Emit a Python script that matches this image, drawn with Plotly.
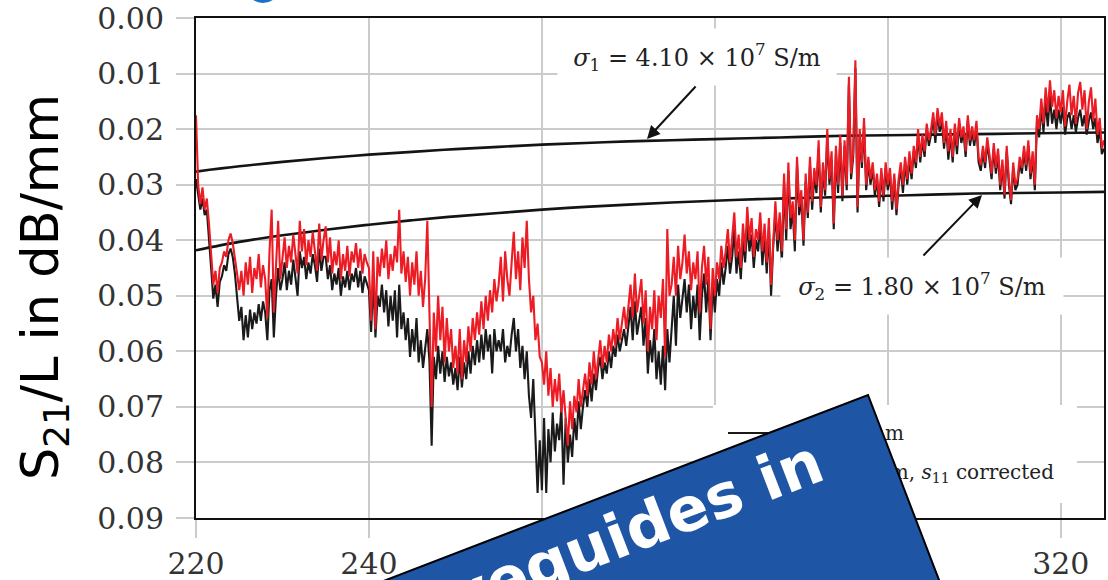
import numpy as np
import plotly.graph_objects as go

# ---------------------------------------------------------------------------
# Measured S21/L of the waveguide section, 220 ... 325 GHz in 0.25 GHz steps
# ---------------------------------------------------------------------------
F_START = 220.0
F_STEP = 0.25

# raw measurement (black)
s21_raw = [
    # 220.00 - 224.75
    0.0290, 0.0320, 0.0345, 0.0325, 0.0355, 0.0345, 0.0390, 0.0450, 0.0505, 0.0480,
    0.0520, 0.0475, 0.0465, 0.0445, 0.0455, 0.0425, 0.0415, 0.0430, 0.0460, 0.0500,
    # 225.00 - 229.75
    0.0545, 0.0520, 0.0580, 0.0535, 0.0575, 0.0525, 0.0560, 0.0530, 0.0550, 0.0515,
    0.0545, 0.0510, 0.0530, 0.0580, 0.0490, 0.0470, 0.0575, 0.0500, 0.0450, 0.0490,
    # 230.00 - 234.75
    0.0470, 0.0440, 0.0490, 0.0455, 0.0480, 0.0435, 0.0465, 0.0500, 0.0420, 0.0450,
    0.0430, 0.0470, 0.0440, 0.0460, 0.0425, 0.0445, 0.0475, 0.0415, 0.0455, 0.0430,
    # 235.00 - 239.75
    0.0430, 0.0470, 0.0445, 0.0490, 0.0460, 0.0480, 0.0450, 0.0500, 0.0465, 0.0485,
    0.0455, 0.0490, 0.0460, 0.0475, 0.0450, 0.0485, 0.0455, 0.0495, 0.0465, 0.0480,
    # 240.00 - 244.75
    0.0490, 0.0565, 0.0470, 0.0575, 0.0500, 0.0520, 0.0480, 0.0530, 0.0490, 0.0555,
    0.0500, 0.0545, 0.0490, 0.0575, 0.0480, 0.0560, 0.0530, 0.0580, 0.0540, 0.0610,
    # 245.00 - 249.75
    0.0560, 0.0600, 0.0540, 0.0620, 0.0580, 0.0630, 0.0590, 0.0560, 0.0620, 0.0770,
    0.0610, 0.0650, 0.0590, 0.0640, 0.0600, 0.0655, 0.0610, 0.0645, 0.0620, 0.0660,
    # 250.00 - 254.75
    0.0630, 0.0670, 0.0610, 0.0665, 0.0620, 0.0650, 0.0600, 0.0640, 0.0590, 0.0625,
    0.0580, 0.0620, 0.0570, 0.0615, 0.0560, 0.0600, 0.0570, 0.0640, 0.0560, 0.0600,
    # 255.00 - 259.75
    0.0580, 0.0600, 0.0560, 0.0620, 0.0590, 0.0610, 0.0570, 0.0540, 0.0600, 0.0560,
    0.0630, 0.0590, 0.0650, 0.0600, 0.0680, 0.0720, 0.0650, 0.0740, 0.0855, 0.0760,
    # 260.00 - 264.75
    0.0850, 0.0720, 0.0855, 0.0740, 0.0800, 0.0710, 0.0780, 0.0730, 0.0760, 0.0700,
    0.0840, 0.0720, 0.0800, 0.0750, 0.0790, 0.0720, 0.0760, 0.0690, 0.0740, 0.0700,
    # 265.00 - 269.75
    0.0670, 0.0700, 0.0650, 0.0690, 0.0640, 0.0670, 0.0630, 0.0610, 0.0650, 0.0620,
    0.0640, 0.0600, 0.0630, 0.0590, 0.0610, 0.0570, 0.0600, 0.0580, 0.0560, 0.0590,
    # 270.00 - 274.75
    0.0560, 0.0520, 0.0580, 0.0510, 0.0570, 0.0540, 0.0520, 0.0590, 0.0540, 0.0640,
    0.0580, 0.0620, 0.0560, 0.0650, 0.0600, 0.0660, 0.0590, 0.0670, 0.0560, 0.0620,
    # 275.00 - 279.75
    0.0560, 0.0500, 0.0590, 0.0480, 0.0540, 0.0500, 0.0470, 0.0530, 0.0480, 0.0560,
    0.0500, 0.0540, 0.0480, 0.0580, 0.0500, 0.0460, 0.0530, 0.0470, 0.0580, 0.0480,
    # 280.00 - 284.75
    0.0530, 0.0470, 0.0500, 0.0440, 0.0480, 0.0450, 0.0410, 0.0460, 0.0430, 0.0380,
    0.0460, 0.0420, 0.0470, 0.0400, 0.0440, 0.0370, 0.0420, 0.0390, 0.0450, 0.0400,
    # 285.00 - 289.75
    0.0420, 0.0370, 0.0445, 0.0390, 0.0460, 0.0380, 0.0500, 0.0410, 0.0350, 0.0420,
    0.0370, 0.0440, 0.0295, 0.0400, 0.0275, 0.0380, 0.0345, 0.0420, 0.0265, 0.0355,
    # 290.00 - 294.75
    0.0325, 0.0410, 0.0295, 0.0360, 0.0265, 0.0345, 0.0285, 0.0315, 0.0235, 0.0350,
    0.0275, 0.0320, 0.0215, 0.0300, 0.0255, 0.0380, 0.0245, 0.0315, 0.0225, 0.0330,
    # 295.00 - 299.75
    0.0230, 0.0310, 0.0120, 0.0290, 0.0250, 0.0090, 0.0350, 0.0210, 0.0270, 0.0195,
    0.0310, 0.0260, 0.0300, 0.0270, 0.0320, 0.0290, 0.0340, 0.0280, 0.0330, 0.0270,
    # 300.00 - 304.75
    0.0310, 0.0280, 0.0345, 0.0290, 0.0355, 0.0300, 0.0270, 0.0315, 0.0260, 0.0300,
    0.0255, 0.0290, 0.0240, 0.0270, 0.0210, 0.0260, 0.0220, 0.0250, 0.0200, 0.0230,
    # 305.00 - 309.75
    0.0210, 0.0180, 0.0225, 0.0172, 0.0205, 0.0185, 0.0235, 0.0195, 0.0255, 0.0210,
    0.0260, 0.0200, 0.0245, 0.0190, 0.0225, 0.0205, 0.0250, 0.0185, 0.0230, 0.0205,
    # 310.00 - 314.75
    0.0230, 0.0195, 0.0260, 0.0275, 0.0240, 0.0270, 0.0225, 0.0255, 0.0290, 0.0235,
    0.0280, 0.0245, 0.0310, 0.0265, 0.0325, 0.0240, 0.0300, 0.0335, 0.0270, 0.0310,
    # 315.00 - 319.75
    0.0300, 0.0260, 0.0280, 0.0240, 0.0275, 0.0230, 0.0290, 0.0250, 0.0310, 0.0185,
    0.0215, 0.0160, 0.0205, 0.0150, 0.0195, 0.0140, 0.0190, 0.0165, 0.0200, 0.0165,
    # 320.00 - 325.00
    0.0190, 0.0160, 0.0210, 0.0180, 0.0170, 0.0200, 0.0175, 0.0205, 0.0180, 0.0165,
    0.0195, 0.0175, 0.0210, 0.0185, 0.0170, 0.0200, 0.0180, 0.0225, 0.0200, 0.0245,
    0.0235,
]

# measurement with s11 correction (red)
s21_corrected = [
    # 220.00 - 224.75
    0.0175, 0.0300, 0.0335, 0.0305, 0.0345, 0.0325, 0.0370, 0.0425, 0.0480, 0.0455,
    0.0495, 0.0450, 0.0440, 0.0420, 0.0430, 0.0400, 0.0388, 0.0405, 0.0430, 0.0460,
    # 225.00 - 229.75
    0.0490, 0.0455, 0.0500, 0.0440, 0.0480, 0.0430, 0.0495, 0.0450, 0.0470, 0.0425,
    0.0485, 0.0445, 0.0470, 0.0540, 0.0420, 0.0345, 0.0530, 0.0440, 0.0365, 0.0470,
    # 230.00 - 234.75
    0.0430, 0.0395, 0.0450, 0.0410, 0.0440, 0.0390, 0.0425, 0.0460, 0.0365, 0.0420,
    0.0380, 0.0445, 0.0400, 0.0430, 0.0385, 0.0415, 0.0455, 0.0370, 0.0435, 0.0400,
    # 235.00 - 239.75
    0.0375, 0.0440, 0.0395, 0.0460, 0.0420, 0.0445, 0.0400, 0.0470, 0.0425, 0.0455,
    0.0410, 0.0465, 0.0420, 0.0440, 0.0405, 0.0450, 0.0415, 0.0460, 0.0425, 0.0440,
    # 240.00 - 244.75
    0.0450, 0.0545, 0.0420, 0.0560, 0.0430, 0.0465, 0.0415, 0.0450, 0.0400, 0.0470,
    0.0425, 0.0455, 0.0410, 0.0440, 0.0345, 0.0460, 0.0420, 0.0475, 0.0430, 0.0500,
    # 245.00 - 249.75
    0.0440, 0.0480, 0.0420, 0.0500, 0.0455, 0.0520, 0.0470, 0.0365, 0.0560, 0.0700,
    0.0530, 0.0600, 0.0500, 0.0580, 0.0520, 0.0620, 0.0540, 0.0600, 0.0560, 0.0630,
    # 250.00 - 254.75
    0.0590, 0.0640, 0.0560, 0.0650, 0.0580, 0.0620, 0.0555, 0.0600, 0.0540, 0.0580,
    0.0530, 0.0570, 0.0510, 0.0560, 0.0500, 0.0545, 0.0490, 0.0530, 0.0470, 0.0510,
    # 255.00 - 259.75
    0.0480, 0.0430, 0.0510, 0.0420, 0.0470, 0.0500, 0.0440, 0.0385, 0.0470, 0.0420,
    0.0490, 0.0395, 0.0450, 0.0365, 0.0470, 0.0530, 0.0500, 0.0580, 0.0550, 0.0610,
    # 260.00 - 264.75
    0.0620, 0.0660, 0.0600, 0.0680, 0.0630, 0.0700, 0.0650, 0.0690, 0.0640, 0.0710,
    0.0670, 0.0720, 0.0770, 0.0690, 0.0740, 0.0680, 0.0710, 0.0650, 0.0700, 0.0670,
    # 265.00 - 269.75
    0.0640, 0.0680, 0.0620, 0.0660, 0.0600, 0.0650, 0.0610, 0.0580, 0.0630, 0.0590,
    0.0620, 0.0570, 0.0600, 0.0560, 0.0590, 0.0540, 0.0580, 0.0550, 0.0520, 0.0560,
    # 270.00 - 274.75
    0.0520, 0.0480, 0.0540, 0.0460, 0.0530, 0.0500, 0.0470, 0.0550, 0.0490, 0.0600,
    0.0520, 0.0560, 0.0490, 0.0580, 0.0500, 0.0540, 0.0470, 0.0610, 0.0380, 0.0500,
    # 275.00 - 279.75
    0.0480, 0.0430, 0.0500, 0.0410, 0.0470, 0.0440, 0.0390, 0.0460, 0.0420, 0.0490,
    0.0440, 0.0470, 0.0420, 0.0530, 0.0450, 0.0410, 0.0480, 0.0430, 0.0560, 0.0450,
    # 280.00 - 284.75
    0.0500, 0.0440, 0.0470, 0.0410, 0.0450, 0.0420, 0.0380, 0.0440, 0.0400, 0.0350,
    0.0430, 0.0390, 0.0450, 0.0370, 0.0420, 0.0340, 0.0400, 0.0360, 0.0430, 0.0380,
    # 285.00 - 289.75
    0.0400, 0.0350, 0.0420, 0.0370, 0.0440, 0.0360, 0.0480, 0.0390, 0.0330, 0.0400,
    0.0350, 0.0420, 0.0280, 0.0380, 0.0260, 0.0360, 0.0330, 0.0400, 0.0250, 0.0340,
    # 290.00 - 294.75
    0.0310, 0.0400, 0.0280, 0.0350, 0.0250, 0.0330, 0.0270, 0.0300, 0.0220, 0.0340,
    0.0260, 0.0310, 0.0200, 0.0290, 0.0240, 0.0370, 0.0230, 0.0300, 0.0210, 0.0320,
    # 295.00 - 299.75
    0.0220, 0.0300, 0.0106, 0.0280, 0.0240, 0.0076, 0.0340, 0.0200, 0.0260, 0.0180,
    0.0300, 0.0250, 0.0290, 0.0260, 0.0310, 0.0280, 0.0330, 0.0270, 0.0320, 0.0260,
    # 300.00 - 304.75
    0.0300, 0.0270, 0.0330, 0.0280, 0.0345, 0.0290, 0.0260, 0.0300, 0.0250, 0.0290,
    0.0240, 0.0280, 0.0230, 0.0260, 0.0200, 0.0250, 0.0210, 0.0240, 0.0190, 0.0220,
    # 305.00 - 309.75
    0.0200, 0.0170, 0.0210, 0.0162, 0.0195, 0.0170, 0.0225, 0.0185, 0.0240, 0.0200,
    0.0250, 0.0190, 0.0230, 0.0180, 0.0215, 0.0195, 0.0240, 0.0175, 0.0220, 0.0195,
    # 310.00 - 314.75
    0.0220, 0.0185, 0.0250, 0.0265, 0.0230, 0.0260, 0.0215, 0.0245, 0.0280, 0.0225,
    0.0270, 0.0235, 0.0300, 0.0255, 0.0318, 0.0230, 0.0290, 0.0328, 0.0260, 0.0300,
    # 315.00 - 319.75
    0.0290, 0.0250, 0.0270, 0.0230, 0.0265, 0.0220, 0.0280, 0.0240, 0.0300, 0.0175,
    0.0200, 0.0145, 0.0190, 0.0125, 0.0170, 0.0112, 0.0160, 0.0130, 0.0180, 0.0140,
    # 320.00 - 325.00
    0.0170, 0.0130, 0.0195, 0.0150, 0.0120, 0.0175, 0.0140, 0.0190, 0.0135, 0.0115,
    0.0165, 0.0130, 0.0200, 0.0150, 0.0125, 0.0185, 0.0145, 0.0210, 0.0180, 0.0235,
    0.0220,
]

# Theoretical loss for two wall conductivities
sigma_freq = [220, 225, 230, 235, 240, 245, 250, 255, 260, 265, 270,
              275, 280, 285, 290, 295, 300, 305, 310, 315, 320, 325]
sigma1_loss = [0.02765, 0.0267, 0.0259, 0.0252, 0.0246, 0.0241, 0.0236, 0.0232,
               0.0228, 0.0225, 0.0222, 0.0220, 0.0218, 0.0216, 0.0214, 0.0212,
               0.0211, 0.0210, 0.0209, 0.0208, 0.0207, 0.0206]
sigma2_loss = [0.0418, 0.0403, 0.0391, 0.0381, 0.0372, 0.0364, 0.0357, 0.0351,
               0.0345, 0.0340, 0.0336, 0.0332, 0.0329, 0.0326, 0.0324, 0.0322,
               0.0320, 0.0318, 0.0316, 0.0315, 0.0314, 0.0313]

x_ticks = [220, 240, 260, 280, 300, 320]
y_ticks = [0.00, 0.01, 0.02, 0.03, 0.04, 0.05, 0.06, 0.07, 0.08, 0.09]
y_tick_text = ["0.00", "0.01", "0.02", "0.03", "0.04", "0.05", "0.06", "0.07", "0.08", "0.09"]

legend_raw = "l = 50 mm"
legend_corr = "l = 50 mm, <i>s</i><sub>11</sub> corrected"
banner_text = "<b>Waveguides in</b>"

freq = np.round(F_START + F_STEP * np.arange(len(s21_corrected)), 2)

# ---------------------------------------------------------------------------
W, H = 1108, 580
PLOT_L, PLOT_R, PLOT_T, PLOT_B = 196, 1104, 18, 518
GRID = "#cbcbcb"
RED = "#ec1c24"
BLUE = "#1e55a5"
SERIF = "DejaVu Serif"
SANS = "DejaVu Sans"

fig = go.Figure()

fig.add_trace(go.Scatter(x=sigma_freq, y=sigma1_loss, mode="lines",
                         line=dict(color="#141414", width=2.6, shape="spline"),
                         showlegend=False, hoverinfo="skip"))
fig.add_trace(go.Scatter(x=sigma_freq, y=sigma2_loss, mode="lines",
                         line=dict(color="#141414", width=2.6, shape="spline"),
                         showlegend=False, hoverinfo="skip"))
fig.add_trace(go.Scatter(x=freq, y=s21_raw, mode="lines",
                         line=dict(color="#1a1a1a", width=2.1),
                         showlegend=False))
fig.add_trace(go.Scatter(x=freq, y=s21_corrected, mode="lines",
                         line=dict(color=RED, width=2.1),
                         showlegend=False))

# --- overlay layer in page pixels (legend box and banner) -------------------
def px(trace_kwargs):
    trace_kwargs.update(xaxis="x2", yaxis="y2", showlegend=False, hoverinfo="skip")
    return go.Scatter(**trace_kwargs)

# legend box
lg_x0, lg_x1, lg_y0, lg_y1 = 713, 1077, 405, 503
fig.add_trace(px(dict(x=[lg_x0, lg_x1, lg_x1, lg_x0, lg_x0],
                      y=[lg_y0, lg_y0, lg_y1, lg_y1, lg_y0],
                      mode="lines", fill="toself", fillcolor="white",
                      line=dict(width=0, color="white"))))
fig.add_trace(px(dict(x=[728, 790], y=[433, 433], mode="lines",
                      line=dict(color="#1a1a1a", width=2))))
fig.add_trace(px(dict(x=[728, 790], y=[475, 475], mode="lines",
                      line=dict(color=RED, width=2))))
fig.add_trace(px(dict(x=[904], y=[435], mode="text", text=[legend_raw],
                      textposition="middle left",
                      textfont=dict(family=SERIF, size=20, color="#222"))))
fig.add_trace(px(dict(x=[1054], y=[474], mode="text", text=[legend_corr],
                      textposition="middle left",
                      textfont=dict(family=SERIF, size=20, color="#222"))))

# tilted banner
ang = np.deg2rad(21.0)
u = np.array([np.cos(ang), -np.sin(ang)])   # along the banner (up-right)
v = np.array([np.sin(ang), np.cos(ang)])    # across the banner (down-right)
tr = np.array([868.0, 395.0])
tl = tr - 1600 * u
br = tr + 900 * v
bl = tl + 900 * v
poly = np.array([tl, tr, br, bl, tl])
fig.add_trace(px(dict(x=poly[:, 0], y=poly[:, 1], mode="lines", fill="toself",
                      fillcolor=BLUE, line=dict(color="black", width=2))))

annotations = [
    dict(text="S<sub>21</sub>/L in dB/mm", x=44, y=287, xref="x2", yref="y2",
         textangle=-90, showarrow=False, font=dict(family=SANS, size=51, color="black")),
    dict(text="<i>σ</i><sub>1</sub> = 4.10 × 10<sup>7</sup> S/m", x=697, y=57,
         xref="x2", yref="y2", showarrow=False, bgcolor="white",
         width=278, height=56, borderpad=0,
         font=dict(family=SERIF, size=24, color="#222")),
    dict(text="<i>σ</i><sub>2</sub> = 1.80 × 10<sup>7</sup> S/m", x=922, y=286,
         xref="x2", yref="y2", showarrow=False, bgcolor="white",
         width=282, height=56, borderpad=0,
         font=dict(family=SERIF, size=24, color="#222")),
    dict(text="", x=647, y=139, ax=697, ay=85, xref="x2", yref="y2",
         axref="x2", ayref="y2", showarrow=True, arrowhead=2, arrowsize=1.3,
         arrowwidth=2, arrowcolor="#111"),
    dict(text="", x=982, y=195, ax=922, ay=257, xref="x2", yref="y2",
         axref="x2", ayref="y2", showarrow=True, arrowhead=2, arrowsize=1.3,
         arrowwidth=2, arrowcolor="#111"),
    dict(text=banner_text, x=585, y=548, xref="x2", yref="y2", textangle=-21,
         showarrow=False, font=dict(family=SANS, size=61, color="white")),
    dict(text="0.001", x=112, y=575, xref="x2", yref="y2", yanchor="top",
         showarrow=False, font=dict(family=SERIF, size=28, color="#333")),
]

shapes = [
    dict(type="circle", xref="x2", yref="y2", x0=247, x1=279, y0=-26, y1=3,
         fillcolor="#1572c4", line=dict(width=0)),
]

axis_common = dict(showgrid=True, gridcolor=GRID, gridwidth=2, automargin=False,
                   showline=True, linecolor="#111", linewidth=2, mirror=True,
                   ticks="outside", ticklen=18, tickwidth=2, tickcolor=GRID,
                   zeroline=False, tickfont=dict(family=SERIF, size=30, color="#333"))

fig.update_layout(
    template="none",
    width=W, height=H,
    margin=dict(l=0, r=0, t=0, b=0, pad=0),
    paper_bgcolor="white", plot_bgcolor="rgba(0,0,0,0)",
    showlegend=False,
    xaxis=dict(domain=[PLOT_L / W, PLOT_R / W], range=[220, 325],
               tickvals=x_ticks, ticktext=[str(t) for t in x_ticks],
               **axis_common),
    yaxis=dict(domain=[1 - PLOT_B / H, 1 - PLOT_T / H], range=[0.09, 0.0],
               tickvals=y_ticks, ticktext=y_tick_text, ticklabelstandoff=6,
               **axis_common),
    xaxis2=dict(domain=[0, 1], range=[0, W], anchor="y2", visible=False,
                fixedrange=True, automargin=False),
    yaxis2=dict(domain=[0, 1], range=[H, 0], anchor="x2", visible=False,
                fixedrange=True, automargin=False),
    annotations=annotations,
    shapes=shapes,
)

fig.write_html("out.html")
